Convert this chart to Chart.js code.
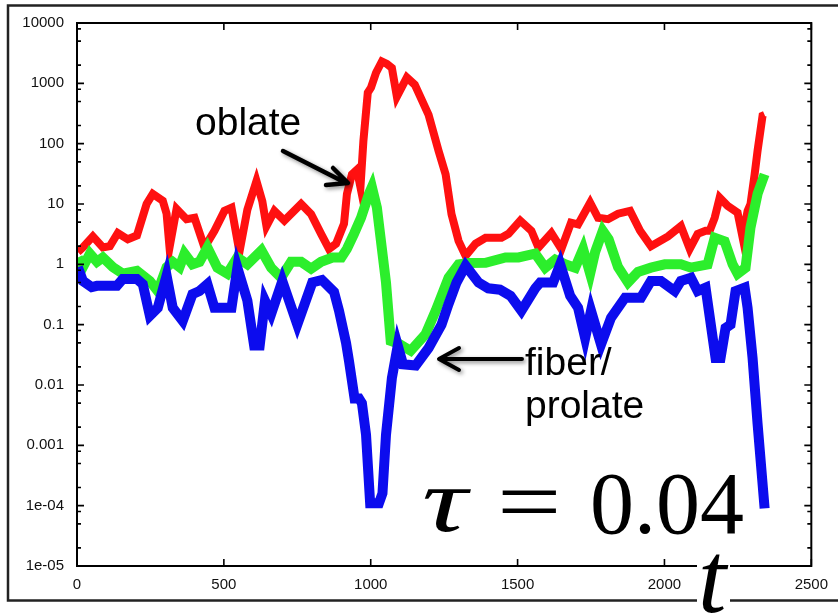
<!DOCTYPE html>
<html>
<head>
<meta charset="utf-8">
<script src="https://cdn.jsdelivr.net/npm/chart.js@4.4.1/dist/chart.umd.min.js"></script>
<style>
  html, body { margin: 0; padding: 0; background: #fff; }
  #wrap { width: 838px; height: 616px; }
</style>
</head>
<body>
<div id="wrap"><canvas id="chart" width="838" height="616"></canvas></div>
<script>
// axis ticks
const yTickValues = [1e-5, 1e-4, 1e-3, 1e-2, 1e-1, 1, 10, 100, 1000, 10000];
const yTickLabels = ['1e-05', '1e-04', '0.001', '0.01', '0.1', '1', '10', '100', '1000', '10000'];
const xTickValues = [0, 500, 1000, 1500, 2000, 2500];

// red (+) series
const redT = [3, 20, 54, 88, 112, 139, 173, 204, 237, 258, 292, 305, 315, 339, 373, 400, 434, 468, 502, 526,
  553, 580, 611, 631, 645, 672, 706, 763, 797, 831, 858, 882, 909, 919, 936, 953, 965, 975, 990,
  1001, 1018, 1038, 1055, 1072, 1089, 1123, 1150, 1197, 1231, 1255, 1275, 1299, 1323, 1357, 1391, 1445, 1469,
  1509, 1547, 1571, 1615, 1649, 1682, 1706, 1747, 1774, 1808, 1842, 1883, 1917, 1954, 2012, 2056, 2086,
  2113, 2140, 2154, 2171, 2188, 2215, 2249, 2266, 2283, 2293, 2307, 2317, 2334, 2341];
const redV = [1.6, 1.9, 2.9, 1.9, 2.0, 3.3, 2.6, 3.0, 10, 14.7, 11.3, 6.9, 1.9, 8.3, 5.6, 5.9, 1.9, 3.6, 7.7, 8.7,
  1.6, 8.0, 24, 11, 4.3, 7.7, 5.3, 10, 6.8, 3.2, 1.8, 2.2, 4.7, 14.7, 31, 37, 19, 110, 700,
  850, 1500, 2300, 2100, 1800, 600, 1250, 950, 300, 76, 31, 6.8, 2.45, 1.38, 2.2, 2.75, 2.75, 3.2,
  5.3, 3.6, 1.9, 3.3, 1.8, 4.9, 4.6, 10.5, 5.9, 5.6, 6.9, 7.7, 3.6, 2.0, 2.9, 4.3, 1.8,
  3.2, 3.6, 3.6, 5.9, 12.7, 9.3, 7.2, 2.8, 7.7, 10, 31, 76, 290, 300];

// green (*) series
const greenT = [3, 20, 44, 68, 88, 122, 156, 204, 248, 275, 305, 326, 349, 366, 393, 417, 444, 478, 512, 546,
  580, 628, 661, 695, 729, 763, 797, 831, 870, 900, 919, 943, 967, 994, 1004, 1021, 1052, 1068, 1096,
  1136, 1187, 1221, 1265, 1299, 1333, 1391, 1459, 1503, 1560, 1594, 1628, 1662, 1696, 1723, 1747, 1764,
  1790, 1810, 1842, 1876, 1910, 1954, 2001, 2056, 2090, 2147, 2171, 2205, 2232, 2249, 2276, 2293, 2317, 2341];
const greenV = [1.3, 0.9, 1.5, 1.1, 1.3, 0.9, 0.7, 0.78, 0.53, 0.36, 0.9, 1.1, 0.9, 1.5, 1.0, 1.1, 1.9, 0.88, 0.7, 1.3,
  1.0, 1.7, 0.88, 0.6, 1.1, 1.1, 0.85, 1.1, 1.3, 1.3, 1.8, 3.2, 5.9, 14.7, 19, 8.7, 0.5, 0.054, 0.048,
  0.037, 0.07, 0.17, 0.6, 1.0, 1.05, 1.06, 1.3, 1.3, 1.5, 0.88, 1.2, 1.0, 0.88, 1.8, 0.7, 1.6,
  3.6, 2.6, 0.9, 0.5, 0.75, 0.88, 1.0, 1.0, 0.88, 1.0, 2.75, 2.4, 1.0, 0.7, 0.88, 4.1, 14.7, 31];

// blue (x) series
const blueT = [3, 20, 50, 68, 136, 156, 204, 224, 248, 275, 305, 326, 360, 393, 417, 444, 468, 526, 546, 580,
  603, 622, 640, 661, 699, 750, 801, 834, 875, 892, 916, 926, 945, 960, 970, 984, 998, 1028, 1040, 1052,
  1072, 1092, 1110, 1153, 1197, 1241, 1265, 1292, 1323, 1367, 1400, 1440, 1476, 1513, 1560, 1577, 1621,
  1645, 1679, 1706, 1730, 1750, 1784, 1818, 1866, 1920, 1954, 1988, 2035, 2056, 2090, 2113, 2140,
  2174, 2191, 2208, 2225, 2242, 2273, 2283, 2300, 2317, 2341];
const blueV = [0.9, 0.53, 0.42, 0.44, 0.44, 0.57, 0.57, 0.47, 0.14, 0.19, 0.65, 0.19, 0.115, 0.32, 0.36, 0.47, 0.19, 0.19, 0.88, 0.25,
  0.045, 0.045, 0.25, 0.15, 0.53, 0.1, 0.5, 0.55, 0.35, 0.17, 0.05, 0.025, 0.006, 0.006, 0.005, 0.0015, 1.1e-4, 1.1e-4, 1.6e-4, 0.0015,
  0.013, 0.045, 0.022, 0.021, 0.041, 0.1, 0.22, 0.5, 0.95, 0.5, 0.4, 0.38, 0.3, 0.17, 0.4, 0.5, 0.5,
  1.0, 0.3, 0.19, 0.06, 0.17, 0.047, 0.13, 0.28, 0.28, 0.53, 0.53, 0.36, 0.53, 0.6, 0.36, 0.41,
  0.028, 0.028, 0.088, 0.1, 0.36, 0.41, 0.19, 0.028, 0.0023, 9e-5];

const toPoints = (ts, vs) => ts.map((t, i) => ({ x: t, y: vs[i] }));

const yMinorFactors = [2, 5, 8];

// draw text squeezed/stretched horizontally around its left edge
function drawScaled(ctx, text, x, y, sx) {
    ctx.save();
    ctx.translate(x, y);
    ctx.scale(sx, 1);
    ctx.fillText(text, 0, 0);
    ctx.restore();
}

const framePlugin = {
    id: 'frame',
    afterDatasetsDraw(chart) {
        const { ctx, chartArea: a, scales: { x, y } } = chart;
        ctx.save();
        ctx.strokeStyle = '#000';
        ctx.lineWidth = 2;
        ctx.strokeRect(a.left, a.top, a.right - a.left, a.bottom - a.top);
        ctx.lineWidth = 1.6;
        ctx.beginPath();
        xTickValues.forEach(v => {
            const px = x.getPixelForValue(v);
            ctx.moveTo(px, a.bottom); ctx.lineTo(px, a.bottom - 7);
            ctx.moveTo(px, a.top); ctx.lineTo(px, a.top + 7);
        });
        yTickValues.forEach((v, i) => {
            const py = y.getPixelForValue(v);
            ctx.moveTo(a.left, py); ctx.lineTo(a.left + 7, py);
            ctx.moveTo(a.right, py); ctx.lineTo(a.right - 7, py);
            if (i < yTickValues.length - 1) {
                yMinorFactors.forEach(f => {
                    const pm = y.getPixelForValue(v * f);
                    ctx.moveTo(a.left, pm); ctx.lineTo(a.left + 4, pm);
                    ctx.moveTo(a.right, pm); ctx.lineTo(a.right - 4, pm);
                });
            }
        });
        ctx.stroke();
        ctx.restore();
    },
    afterDraw(chart) {
        const ctx = chart.ctx;
        ctx.save();
        // outer picture frame
        ctx.strokeStyle = '#222';
        ctx.lineWidth = 2.5;
        ctx.strokeRect(8, 5.5, 860, 595);

        // labels
        ctx.fillStyle = '#000';
        ctx.font = '39px "Liberation Sans", Arial, sans-serif';
        ctx.textBaseline = 'alphabetic';
        ctx.fillText('oblate', 195, 135);
        ctx.fillText('fiber/', 525, 375);
        ctx.fillText('prolate', 525, 418);

        // arrows
        ctx.shadowColor = 'rgba(0,0,0,0.45)';
        ctx.shadowBlur = 4;
        ctx.shadowOffsetX = 2;
        ctx.shadowOffsetY = 2;
        ctx.strokeStyle = '#000';
        ctx.lineWidth = 4.5;
        ctx.lineCap = 'round';
        ctx.lineJoin = 'round';
        ctx.beginPath();
        ctx.moveTo(283, 151); ctx.lineTo(346, 183);
        ctx.moveTo(333, 168); ctx.lineTo(348, 183); ctx.lineTo(326, 185);
        ctx.stroke();
        ctx.lineWidth = 4;
        ctx.beginPath();
        ctx.moveTo(522, 359); ctx.lineTo(440, 359);
        ctx.moveTo(459, 348); ctx.lineTo(439, 359); ctx.lineTo(459, 370);
        ctx.stroke();
        ctx.shadowColor = 'transparent';

        // tau = 0.04
        ctx.font = 'italic 90px "Liberation Serif", "Times New Roman", serif';
        drawScaled(ctx, '\u03c4', 422, 531, 1.4);
        ctx.font = '88px "Liberation Serif", "Times New Roman", serif';
        drawScaled(ctx, '=', 497, 531, 1.3);
        ctx.fillText('0.04', 590, 533);

        // axis title t
        ctx.fillStyle = '#fff';
        ctx.fillRect(697, 553, 33, 63);
        ctx.fillStyle = '#000';
        ctx.font = 'italic 102px "Liberation Serif", "Times New Roman", serif';
        ctx.fillText('t', 698, 612);
        ctx.restore();
    }
};

const tickFont = { family: '"Liberation Sans", Arial, Helvetica, sans-serif', size: 15 };

new Chart(document.getElementById('chart').getContext('2d'), {
    type: 'line',
    data: {
        datasets: [
            {
                label: 'red', data: toPoints(redT, redV), order: 3,
                borderColor: '#ff1010', borderWidth: 8, pointRadius: 0, tension: 0
            },
            {
                label: 'green', data: toPoints(greenT, greenV), order: 2,
                borderColor: '#2cee2c', borderWidth: 10, pointRadius: 0, tension: 0
            },
            {
                label: 'blue', data: toPoints(blueT, blueV), order: 1,
                borderColor: '#0c0cee', borderWidth: 10, pointRadius: 0, tension: 0
            }
        ]
    },
    options: {
        responsive: false,
        devicePixelRatio: 1,
        animation: false,
        layout: { padding: { top: 23, right: 24, left: 0, bottom: 0 } },
        plugins: { legend: { display: false }, tooltip: { enabled: false } },
        scales: {
            x: {
                type: 'linear', min: 0, max: 2500,
                grid: { display: false, drawTicks: false },
                border: { display: false },
                afterBuildTicks: s => { s.ticks = xTickValues.map(v => ({ value: v })); },
                afterFit: s => { s.height = 50; },
                ticks: { color: '#111', font: tickFont, padding: 10, maxRotation: 0, callback: v => String(v) }
            },
            y: {
                type: 'logarithmic', min: 1e-5, max: 1e4,
                grid: { display: false, drawTicks: false },
                border: { display: false },
                afterBuildTicks: s => { s.ticks = yTickValues.map(v => ({ value: v })); },
                afterFit: s => { s.width = 77; },
                ticks: {
                    color: '#111', font: tickFont, padding: 13,
                    callback: v => yTickLabels[yTickValues.indexOf(v)] ?? ''
                }
            }
        }
    },
    plugins: [framePlugin]
});
</script>
</body>
</html>
